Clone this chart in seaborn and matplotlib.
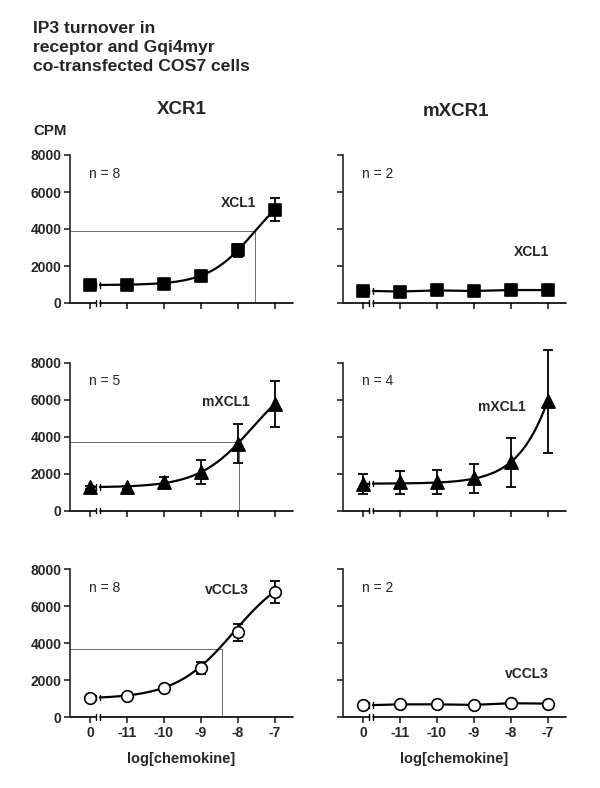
import numpy as np
import pandas as pd
import matplotlib.pyplot as plt
import seaborn as sns

# x categories: first one is the "no chemokine" control, the rest are log[M]
dose_labels = ['0', '-11', '-10', '-9', '-8', '-7']
dose_pos = [0, 1, 2, 3, 4, 5]

# XCR1 receptor
xcr1_xcl1_mean = [1000, 960, 1050, 1480, 2850, 5050]
xcr1_xcl1_err = [90, 60, 70, 90, 340, 600]
xcr1_mxcl1_mean = [1250, 1260, 1520, 2100, 3600, 5750]
xcr1_mxcl1_err = [90, 80, 300, 650, 1050, 1250]
xcr1_vccl3_mean = [1040, 1150, 1570, 2680, 4590, 6780]
xcr1_vccl3_err = [60, 60, 80, 330, 440, 600]

# mXCR1 receptor
mxcr1_xcl1_mean = [650, 620, 680, 650, 700, 700]
mxcr1_xcl1_err = [40, 40, 40, 40, 40, 40]
mxcr1_mxcl1_mean = [1430, 1520, 1540, 1740, 2600, 5900]
mxcr1_mxcl1_err = [530, 620, 630, 800, 1310, 2800]
mxcr1_vccl3_mean = [660, 700, 700, 670, 760, 740]
mxcr1_vccl3_err = [40, 40, 40, 40, 40, 40]

# sigmoid fit parameters (bottom, top, logEC50, hill)
fit_xcr1_xcl1 = [970, 6700, -7.55, 0.7]
fit_xcr1_mxcl1 = [1250, 7710, -7.6, 0.6]
fit_xcr1_vccl3 = [1000, 8230, -8.1, 0.55]
fit_mxcr1_mxcl1 = [1450, 25800, -6.0, 0.65]

# thin guide lines (log dose, CPM)
guide_xcl1 = [-7.52, 3875]
guide_mxcl1 = [-7.97, 3700]
guide_vccl3 = [-8.42, 3690]

n_labels = ['n = 8', 'n = 2', 'n = 5', 'n = 4', 'n = 8', 'n = 2']


def sigmoid(logx, p):
    b, t, c, h = p
    return b + (t - b) / (1 + 10 ** ((c - logx) * h))


sns.set_style('ticks')
plt.rcParams['font.family'] = ['Liberation Sans', 'DejaVu Sans']

fig = plt.figure(figsize=(6, 7.88), dpi=100)

col_left = [70 / 600, 343 / 600]
col_w = 223 / 600
row_bottom = [(788 - 303) / 788, (788 - 510.5) / 788, (788 - 717.3) / 788]
row_h = 148 / 788

panels = [
    (0, 0, xcr1_xcl1_mean, xcr1_xcl1_err, fit_xcr1_xcl1, guide_xcl1, 's', 'black', 'XCL1', (4.5, 5430)),
    (0, 1, mxcr1_xcl1_mean, mxcr1_xcl1_err, None, None, 's', 'black', 'XCL1', (5.05, 2760)),
    (1, 0, xcr1_mxcl1_mean, xcr1_mxcl1_err, fit_xcr1_mxcl1, guide_mxcl1, '^', 'black', 'mXCL1', (4.32, 5890)),
    (1, 1, mxcr1_mxcl1_mean, mxcr1_mxcl1_err, fit_mxcr1_mxcl1, None, '^', 'black', 'mXCL1', (4.4, 5580)),
    (2, 0, xcr1_vccl3_mean, xcr1_vccl3_err, fit_xcr1_vccl3, guide_vccl3, 'o', 'white', 'vCCL3', (4.3, 6880)),
    (2, 1, mxcr1_vccl3_mean, mxcr1_vccl3_err, None, None, 'o', 'white', 'vCCL3', (5.03, 2340)),
]

brk1, brk2 = 0.16, 0.27
xmin, xmax = -0.54, 5.5

for i, (r, c, mean, err, fit, guide, mk, face, lbl, lbl_xy) in enumerate(panels):
    ax = fig.add_axes([col_left[c], row_bottom[r], col_w, row_h])
    df = pd.DataFrame({'pos': dose_pos, 'cpm': mean, 'err': err})

    # guide lines
    if guide is not None:
        gx = guide[0] + 12
        ax.plot([xmin, gx], [guide[1], guide[1]], color='#555555', lw=0.6, zorder=1)
        ax.plot([gx, gx], [0, guide[1]], color='#555555', lw=0.6, zorder=1)

    # curve or connecting line
    if fit is not None:
        xs = np.linspace(brk2, 5, 200)
        curve = pd.DataFrame({'pos': xs, 'cpm': sigmoid(xs - 12, fit)})
        y_start = curve['cpm'].iloc[0]
    else:
        curve = pd.DataFrame({'pos': [brk2] + dose_pos[1:], 'cpm': [mean[0]] + mean[1:]})
        y_start = mean[0]
    sns.lineplot(data=curve, x='pos', y='cpm', color='black', lw=1.6, ax=ax, zorder=3)
    ax.plot([0, brk1], [y_start, y_start], color='black', lw=1.6, zorder=3)
    for bx in (brk1, brk2):
        ax.plot([bx, bx], [y_start - 150, y_start + 150], color='black', lw=1.0, zorder=3)

    # error bars and markers
    ax.errorbar(df['pos'], df['cpm'], yerr=df['err'], fmt='none', ecolor='black',
                elinewidth=1.3, capsize=3.5, capthick=1.3, zorder=4, clip_on=False)
    sns.scatterplot(data=df, x='pos', y='cpm', marker=mk, s=70 if mk != '^' else 90,
                    color=face, edgecolor='black', linewidth=1.2, ax=ax, zorder=5, clip_on=False)

    # broken x axis
    ax.spines['bottom'].set_visible(False)
    ax.plot([xmin, brk1], [0, 0], color='black', lw=1.2, clip_on=False)
    ax.plot([brk2, xmax], [0, 0], color='black', lw=1.2, clip_on=False)
    for bx in (brk1, brk2):
        ax.plot([bx, bx], [-160, 160], color='black', lw=1.0, clip_on=False)

    sns.despine(ax=ax, bottom=True)
    ax.spines['left'].set_linewidth(1.2)
    ax.set_xlim(xmin, xmax)
    ax.set_ylim(0, 8000)
    ax.set_yticks([0, 2000, 4000, 6000, 8000])
    ax.set_xticks(dose_pos)
    ax.tick_params(length=4, width=1.2, pad=2, labelsize=10)
    if r == 2:
        ax.set_xticklabels(dose_labels, fontweight='bold')
        ax.set_xlabel('log[chemokine]', fontweight='bold', fontsize=10.5, labelpad=9)
    else:
        ax.set_xticklabels([])
        ax.set_xlabel('')
    if c == 0:
        ax.set_yticklabels(['0', '2000', '4000', '6000', '8000'], fontweight='bold')
    else:
        ax.set_yticklabels([])
    ax.set_ylabel('')

    ax.text(-0.02, 7000, n_labels[i], ha='left', va='center', fontsize=10)
    ax.text(lbl_xy[0], lbl_xy[1], lbl, ha='right', va='center', fontsize=10, fontweight='bold')

fig.text(33 / 600, 1 - 21 / 788, 'IP3 turnover in\nreceptor and Gqi4myr\nco-transfected COS7 cells',
         ha='left', va='top', fontsize=12.6, fontweight='bold', linespacing=1.35)
fig.text(182 / 600, 1 - 109 / 788, 'XCR1', ha='center', va='center', fontsize=13.5, fontweight='bold')
fig.text(456 / 600, 1 - 111 / 788, 'mXCR1', ha='center', va='center', fontsize=13.5, fontweight='bold')
fig.text(33 / 600, 1 - 131 / 788, 'CPM', ha='left', va='center', fontsize=10.8, fontweight='bold')

plt.savefig('out.png', dpi=100)
